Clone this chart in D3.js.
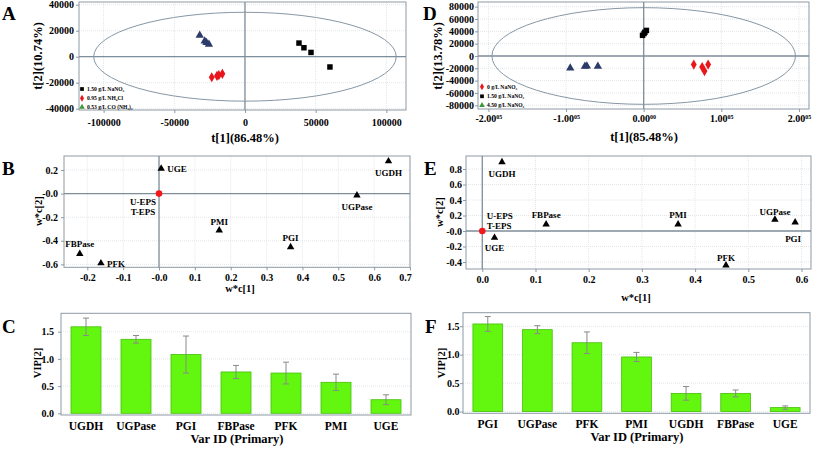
<!DOCTYPE html>
<html><head><meta charset="utf-8">
<script src="https://cdn.jsdelivr.net/npm/d3@7"></script>
<style>
body{margin:0;background:#fff}
svg{display:block}
text{font-family:"Liberation Serif","Times New Roman","DejaVu Serif",serif;font-weight:bold;fill:#000}
</style>
</head><body><script>
// ---------- DATA ----------
// Panel A (PCA scores)
const aXTicks = [-100000, -50000, 0, 50000, 100000];
const aYTicks = [-40000, -20000, 0, 20000, 40000];
const aSquaresX = [38200, 41700, 46700, 60100];
const aSquaresY = [10500, 6900, 3300, -7900];
const aDiamondsX = [-23500, -19800, -18500, -16000];
const aDiamondsY = [-15800, -14800, -14200, -13200];
const aTrianglesX = [-32000, -28500, -27200, -25500];
const aTrianglesY = [16500, 12000, 10800, 9500];
const aEllipse = [107000, 34200];
const aLegend = ["1.50 g/L NaNO\u2083", "0.95 g/L NH\u2084Cl", "0.53 g/L CO (NH\u2082)\u2082"];

// Panel D (PCA scores)
const dXTicks = [-200000, -100000, 0, 100000, 200000];
const dXTickMain = ["-2.00", "-1.00", "0.00", "1.00", "2.00"];
const dXTickSup = ["05", "05", "00", "05", "05"];
const dYTicks = [-80000, -60000, -40000, -20000, 0, 20000, 40000, 60000, 80000];
const dSquaresX = [-1500, 500, 1500, 3500];
const dSquaresY = [33500, 36500, 38500, 41500];
const dDiamondsX = [64500, 75300, 78300, 83000];
const dDiamondsY = [-14000, -17900, -24400, -14000];
const dTrianglesX = [-94600, -75700, -73200, -59000];
const dTrianglesY = [-19500, -16750, -16200, -16750];
const dEllipse = [195500, 78400];
const dLegend = ["0 g/L NaNO\u2083", "1.50 g/L NaNO\u2083", "4.50 g/L NaNO\u2083"];

// Panel B (loadings)
const bXTicks = [-0.2, -0.1, 0, 0.1, 0.2, 0.3, 0.4, 0.5, 0.6, 0.7];
const bXTickLabels = ["-0.2", "-0.1", "-0.0", "0.1", "0.2", "0.3", "0.4", "0.5", "0.6", "0.7"];
const bYTicks = [-0.6, -0.4, -0.2, 0, 0.2];
const bYTickLabels = ["-0.6", "-0.4", "-0.2", "-0.0", "0.2"];
const bNames = ["UGE", "UGDH", "UGPase", "PMI", "PGI", "FBPase", "PFK"];
const bX = [0.006, 0.64, 0.552, 0.168, 0.367, -0.221, -0.162];
const bY = [0.213, 0.275, -0.014, -0.312, -0.454, -0.511, -0.59];

// Panel E (loadings)
const eXTicks = [0, 0.1, 0.2, 0.3, 0.4, 0.5, 0.6];
const eXTickLabels = ["0.0", "0.1", "0.2", "0.3", "0.4", "0.5", "0.6"];
const eYTicks = [-0.4, -0.2, 0, 0.2, 0.4, 0.6, 0.8];
const eYTickLabels = ["-0.4", "-0.2", "-0.0", "0.2", "0.4", "0.6", "0.8"];
const eNames = ["UGDH", "FBPase", "PMI", "UGPase", "PGI", "PFK", "UGE"];
const eX = [0.037, 0.12, 0.368, 0.55, 0.588, 0.458, 0.023];
const eY = [0.89, 0.086, 0.086, 0.147, 0.112, -0.443, -0.086];

// Panel C (VIP)
const cCats = ["UGDH", "UGPase", "PGI", "FBPase", "PFK", "PMI", "UGE"];
const cVip = [1.59, 1.36, 1.08, 0.76, 0.74, 0.57, 0.25];
const cErr = [0.16, 0.07, 0.34, 0.12, 0.20, 0.15, 0.09];
// Panel F (VIP)
const fCats = ["PGI", "UGPase", "PFK", "PMI", "UGDH", "FBPase", "UGE"];
const fVip = [1.54, 1.44, 1.21, 0.96, 0.32, 0.32, 0.07];
const fErr = [0.13, 0.07, 0.19, 0.08, 0.12, 0.06, 0.03];
const vipTicks = [0, 0.5, 1.0, 1.5];
const vipTickLabels = ["0.0", "0.5", "1.0", "1.5"];

// ---------- STYLE ----------
const FONT = '"Liberation Serif","Times New Roman",serif';
const FRAME = "#8d9aa5", ZERO = "#7f8e9b", GRID = "#e3e6e8";
const NAVY = "#2c3b69", RED = "#e8161c";
const BAR = "#63f70f", BAR_S = "#45bf0a", ERR = "#8a8a8a";

const svg = d3.select("body").append("svg").attr("width", 813).attr("height", 449)
  .attr("font-family", FONT).attr("font-weight", "bold");

function frameAndGrid(g, x, y, xt, yt, isBand) {
  const [x0, x1] = x.range(), [y0, y1] = y.range();
  if (!isBand) {
    g.append("g").selectAll("line").data(xt).join("line")
      .attr("x1", d => x(d)).attr("x2", d => x(d)).attr("y1", y0).attr("y2", y1)
      .attr("stroke", GRID).attr("stroke-dasharray", "1,1");
  }
  g.append("g").selectAll("line").data(yt).join("line")
    .attr("x1", x0).attr("x2", x1).attr("y1", d => y(d)).attr("y2", d => y(d))
    .attr("stroke", GRID).attr("stroke-dasharray", "1,1");
  g.append("rect").attr("x", x0).attr("y", y1).attr("width", x1 - x0).attr("height", y0 - y1)
    .attr("fill", "none").attr("stroke", FRAME).attr("stroke-width", 1);
}

function styleAxis(a, fs) {
  a.attr("font-family", FONT).attr("font-weight", "bold");
  a.select(".domain").remove();
  a.selectAll(".tick line").attr("stroke", FRAME);
  a.selectAll(".tick text").attr("font-size", fs).attr("fill", "#000")
    .style("font-family", FONT).style("font-weight", "bold");
}

function addLeftAxis(x, y, ticks, labels, pad, fs) {
  const a = svg.append("g").attr("transform", `translate(${x.range()[0]},0)`)
    .call(d3.axisLeft(y).tickValues(ticks).tickFormat((d, i) => labels[i]).tickSize(3).tickPadding(pad));
  styleAxis(a, fs);
  return a;
}
function addBottomAxis(x, y, ticks, labels, pad, fs) {
  const a = svg.append("g").attr("transform", `translate(0,${y.range()[0]})`)
    .call(d3.axisBottom(x).tickValues(ticks).tickFormat((d, i) => labels ? labels[i] : d).tickSize(3).tickPadding(pad));
  styleAxis(a, fs);
  return a;
}
function zeroLines(x, y) {
  svg.append("line").attr("x1", x(0)).attr("x2", x(0)).attr("y1", y.range()[0]).attr("y2", y.range()[1])
    .attr("stroke", ZERO).attr("stroke-width", 1.3);
  svg.append("line").attr("x1", x.range()[0]).attr("x2", x.range()[1]).attr("y1", y(0)).attr("y2", y(0))
    .attr("stroke", ZERO).attr("stroke-width", 1.3);
}
function title(txt, cx, cy, fs, rot) {
  svg.append("text").attr("x", cx).attr("y", cy).attr("text-anchor", "middle")
    .attr("dominant-baseline", "central").attr("font-size", fs)
    .attr("transform", rot ? `rotate(-90,${cx},${cy})` : null).text(txt);
}
function letter(t, x, y) {
  svg.append("text").attr("x", x).attr("y", y).attr("font-size", 19).text(t);
}
function marks(xs, ys, x, y, type, size, color) {
  svg.append("g").selectAll("path").data(xs).join("path")
    .attr("d", d3.symbol().type(type).size(size))
    .attr("transform", (d, i) => `translate(${x(d)},${y(ys[i])})`)
    .attr("fill", color);
}
function legend(items, types, colors, mx, ys) {
  items.forEach((t, i) => {
    svg.append("path").attr("d", d3.symbol().type(types[i]).size(14))
      .attr("transform", `translate(${mx},${ys[i]})`).attr("fill", colors[i]);
    svg.append("text").attr("x", mx + 5).attr("y", ys[i]).attr("dominant-baseline", "central")
      .attr("font-size", 5.6).text(t);
  });
}

// ---------- PANEL A ----------
{
  const x = d3.scaleLinear().domain([-117400, 113900]).range([79, 406]);
  const y = d3.scaleLinear().domain([-41000, 42100]).range([110, 2]);
  frameAndGrid(svg, x, y, aXTicks, aYTicks);
  zeroLines(x, y);
  svg.append("ellipse").attr("cx", x(0)).attr("cy", y(0))
    .attr("rx", x(aEllipse[0]) - x(0)).attr("ry", y(0) - y(aEllipse[1]))
    .attr("fill", "none").attr("stroke", "#8797a4").attr("stroke-width", 1);
  addLeftAxis(x, y, aYTicks, aYTicks.map(String), 2, 10);
  addBottomAxis(x, y, aXTicks, aXTicks.map(String), 6, 10);
  marks(aSquaresX, aSquaresY, x, y, d3.symbolSquare, 30, "#000");
  marks(aDiamondsX, aDiamondsY, x, y, d3.symbolDiamond, 30, RED);
  marks(aTrianglesX, aTrianglesY, x, y, d3.symbolTriangle, 30, NAVY);
  legend(aLegend, [d3.symbolSquare, d3.symbolDiamond, d3.symbolTriangle], ["#000", RED, "#3a9a3a"], 82, [89, 98.3, 107]);
  title("t[1](86.48%)", 245, 138, 12.5);
  title("t[2](10.74%)", 38, 56, 12.5, true);
  letter("A", 2, 20);
}

// ---------- PANEL D ----------
{
  const x = d3.scaleLinear().domain([-213400, 212900]).range([478, 809]);
  const y = d3.scaleLinear().domain([-86000, 87600]).range([109, 2]);
  frameAndGrid(svg, x, y, dXTicks, dYTicks);
  zeroLines(x, y);
  svg.append("ellipse").attr("cx", x(0)).attr("cy", y(0))
    .attr("rx", x(dEllipse[0]) - x(0)).attr("ry", y(0) - y(dEllipse[1]))
    .attr("fill", "none").attr("stroke", "#8797a4").attr("stroke-width", 1);
  addLeftAxis(x, y, dYTicks, dYTicks.map(String), 1, 10);
  const a = addBottomAxis(x, y, dXTicks, dXTickMain, 3, 10);
  a.selectAll(".tick text").each(function (d, i) {
    d3.select(this).append("tspan").attr("font-size", 6).attr("dy", "-0.5em").text(dXTickSup[i]);
  });
  marks(dSquaresX, dSquaresY, x, y, d3.symbolSquare, 30, "#000");
  marks(dDiamondsX, dDiamondsY, x, y, d3.symbolDiamond, 30, RED);
  marks(dTrianglesX, dTrianglesY, x, y, d3.symbolTriangle, 30, NAVY);
  legend(dLegend, [d3.symbolDiamond, d3.symbolSquare, d3.symbolTriangle], [RED, "#000", "#3a9a3a"], 482, [86.7, 96.3, 105.3]);
  title("t[1](85.48%)", 644, 137, 12.5);
  title("t[2](13.78%)", 438, 56, 12.5, true);
  letter("D", 423, 20);
}

// ---------- PANEL B ----------
{
  const x = d3.scaleLinear().domain([-0.265, 0.7]).range([64, 410]);
  const y = d3.scaleLinear().domain([-0.625, 0.319]).range([267.3, 156]);
  frameAndGrid(svg, x, y, bXTicks, bYTicks);
  zeroLines(x, y);
  addLeftAxis(x, y, bYTicks, bYTickLabels, 3, 10);
  const ax = addBottomAxis(x, y, bXTicks, bXTickLabels, 3.5, 10);
  ax.selectAll(".tick text").filter(d => d === 0.7).attr("dx", -5);
  marks(bX, bY, x, y, d3.symbolTriangle, 24, "#000");
  const place = {UGE: [6, 3.5, "start"], UGDH: [0, 15, "middle"], UGPase: [0, 15, "middle"], PMI: [0, -5.5, "middle"],
                 PGI: [0, -6, "middle"], FBPase: [0, -7, "middle"], PFK: [6, 3.5, "start"]};
  bNames.forEach((n, i) => {
    const p = place[n];
    svg.append("text").attr("x", x(bX[i]) + p[0]).attr("y", y(bY[i]) + p[1]).attr("text-anchor", p[2])
      .attr("font-size", 9).text(n);
  });
  svg.append("circle").attr("cx", x(0)).attr("cy", y(0)).attr("r", 3.3).attr("fill", "#f01818");
  svg.append("text").attr("x", x(0) - 16).attr("y", y(0) + 11.5).attr("text-anchor", "middle").attr("font-size", 9).text("U-EPS");
  svg.append("text").attr("x", x(0) - 16).attr("y", y(0) + 21.5).attr("text-anchor", "middle").attr("font-size", 9).text("T-EPS");
  title("w*c[1]", 240, 288.5, 10.5);
  title("w*c[2]", 38, 211, 10.5, true);
  letter("B", 2, 175);
}

// ---------- PANEL E ----------
{
  const x = d3.scaleLinear().domain([-0.0306, 0.6178]).range([466, 811]);
  const y = d3.scaleLinear().domain([-0.49, 0.968]).range([269, 156]);
  frameAndGrid(svg, x, y, eXTicks, eYTicks);
  zeroLines(x, y);
  addLeftAxis(x, y, eYTicks, eYTickLabels, 1, 10);
  addBottomAxis(x, y, eXTicks, eXTickLabels, 4, 10);
  marks(eX, eY, x, y, d3.symbolTriangle, 24, "#000");
  const place = {UGDH: [0, 15, "middle"], FBPase: [0, -6, "middle"], PMI: [0, -6, "middle"], UGPase: [0, -5, "middle"],
                 PGI: [-2, 20, "middle"], PFK: [0, -4.5, "middle"], UGE: [0, 13.5, "middle"]};
  eNames.forEach((n, i) => {
    const p = place[n];
    svg.append("text").attr("x", x(eX[i]) + p[0]).attr("y", y(eY[i]) + p[1]).attr("text-anchor", p[2])
      .attr("font-size", 9).text(n);
  });
  svg.append("circle").attr("cx", x(0)).attr("cy", y(0)).attr("r", 3.3).attr("fill", "#f01818");
  svg.append("text").attr("x", x(0) + 4.5).attr("y", y(0) - 12).attr("font-size", 9).text("U-EPS");
  svg.append("text").attr("x", x(0) + 4.5).attr("y", y(0) - 2.5).attr("font-size", 9).text("T-EPS");
  title("w*c[1]", 636, 297, 10.5);
  title("w*c[2]", 439, 212, 10.5, true);
  letter("E", 424, 175);
}

// ---------- BAR PANELS ----------
function vipPanel(cats, vals, errs, xr, yDom, yr, yPad, xPad, xt, yt, yTitleX, letterPos) {
  const x = d3.scaleBand().domain(cats).range(xr).paddingInner(0.4).paddingOuter(0.2);
  const y = d3.scaleLinear().domain(yDom).range(yr);
  frameAndGrid(svg, x, y, [], vipTicks, true);
  svg.append("g").selectAll("rect").data(cats).join("rect")
    .attr("x", d => x(d)).attr("width", x.bandwidth())
    .attr("y", (d, i) => y(vals[i])).attr("height", (d, i) => y(0) - y(vals[i]))
    .attr("fill", BAR).attr("stroke", BAR_S).attr("stroke-width", 0.8);
  const eg = svg.append("g").attr("stroke", ERR).attr("stroke-width", 1);
  cats.forEach((c, i) => {
    const cx = x(c) + x.bandwidth() / 2, t = y(vals[i] + errs[i]), b = y(vals[i] - errs[i]);
    eg.append("line").attr("x1", cx).attr("x2", cx).attr("y1", t).attr("y2", b);
    eg.append("line").attr("x1", cx - 3).attr("x2", cx + 3).attr("y1", t).attr("y2", t);
    eg.append("line").attr("x1", cx - 3).attr("x2", cx + 3).attr("y1", b).attr("y2", b);
  });
  addLeftAxis(d3.scaleLinear().range(xr), y, vipTicks, vipTickLabels, yPad, 10);
  const a = svg.append("g").attr("transform", `translate(0,${yr[0]})`)
    .call(d3.axisBottom(x).tickSize(0).tickPadding(xPad));
  styleAxis(a, 11.5);
  title("Var ID (Primary)", xt[0], xt[1], 12.5);
  title("VIP[2]", yTitleX, yt, 10.5, true);
  letter(letterPos[0], letterPos[1], letterPos[2]);
}
vipPanel(cCats, cVip, cErr, [61, 411], [-0.031, 1.838], [415, 313.3], 4, 7, [237, 438.5], 363, 37, ["C", 2, 333]);
vipPanel(fCats, fVip, fErr, [463, 810], [-0.03, 1.738], [413.3, 312.7], 0.5, 6.5, [637, 437], 363, 441, ["F", 425, 333]);
</script></body></html>
